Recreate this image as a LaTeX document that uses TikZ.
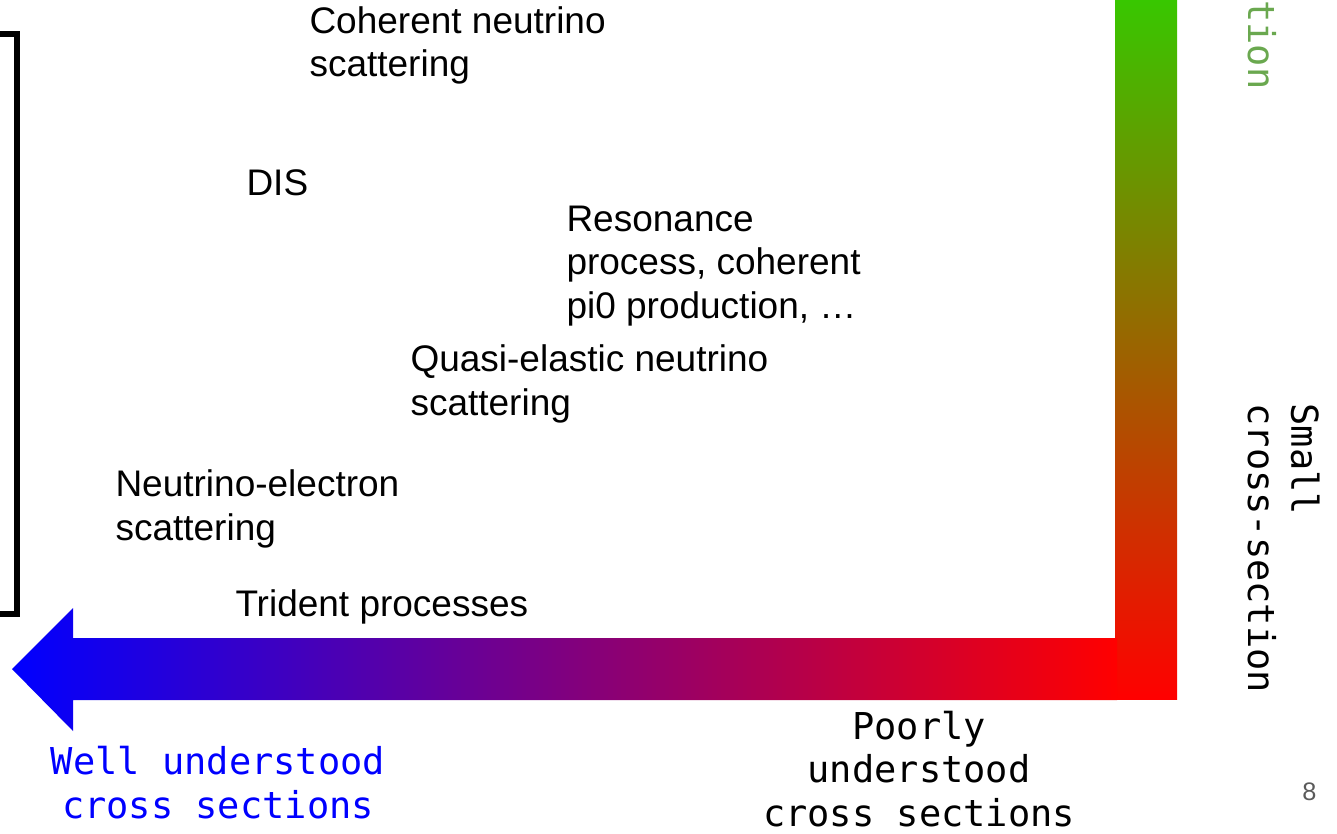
\documentclass[tikz,border=0pt]{standalone}
\usepackage{fontspec}
\setmainfont{Liberation Sans}
\newfontfamily\monofont{DejaVu Sans Mono}

\tikzset{every picture/.style={line width=0.75pt}}
\tikzset{
  proc/.style={anchor=base west, inner sep=0pt, align=left, font=\fontsize{27.75}{32.5}\selectfont},
  axislabel/.style={anchor=base, inner sep=0pt, align=center, font=\monofont\fontsize{27.75}{32.5}\selectfont}
}

\begin{document}
\begin{tikzpicture}[x=0.75pt,y=0.75pt,yscale=-1,xscale=1]
\useasboundingbox (0,0) rectangle (1337,834);

%Vertical Bar
\shade [bottom color={rgb, 255:red, 255; green, 0; blue, 0 }, top color={rgb, 255:red, 56; green, 199; blue, 0 }] (1115,0) rectangle (1177,699);
%Left Arrow
\shade [left color={rgb, 255:red, 0; green, 0; blue, 255 }, right color={rgb, 255:red, 255; green, 0; blue, 0 }] (12,669) -- (73,608) -- (73,638) -- (1117,638) -- (1117,700) -- (73,700) -- (73,731) -- cycle ;
%Bracket
\draw [line width=4.5]  (0,34) -- (17,34) -- (17,614) -- (0,614) ;

% Text Node (base = last line)
\node (coh) [proc] at (309,77) {Coherent neutrino\\scattering};
% Text Node
\node (dis) [proc] at (246,196) {DIS};
% Text Node
\node (res) [proc] at (566,318) {Resonance\\process, coherent\\pi0 production, …};
% Text Node
\node (qe) [proc] at (410,415) {Quasi-elastic neutrino\\scattering};
% Text Node
\node (nue) [proc] at (115,540) {Neutrino-electron\\scattering};
% Text Node
\node (tri) [proc] at (235,616) {Trident processes};

% Text Node
\node (well) [axislabel, text={rgb, 255:red, 0; green, 0; blue, 255 }] at (218,818) {Well understood\\cross sections};
% Text Node
\node (poor) [axislabel] at (919,826) {Poorly\\understood\\cross sections};
% Text Node
\node (small) [axislabel, rotate=-90, anchor=base west, align=left] at (1248,403) {Small\\cross-section};
% Text Node
\node (large) [axislabel, rotate=-90, anchor=base east, text={rgb, 255:red, 106; green, 168; blue, 79 }] at (1248,90) {tion};
% Text Node
\node (page) [anchor=base east, inner sep=0pt, font=\fontsize{19}{22}\selectfont, text={rgb, 255:red, 90; green, 90; blue, 90 }] at (1317,800) {8};

\end{tikzpicture}
\end{document}
